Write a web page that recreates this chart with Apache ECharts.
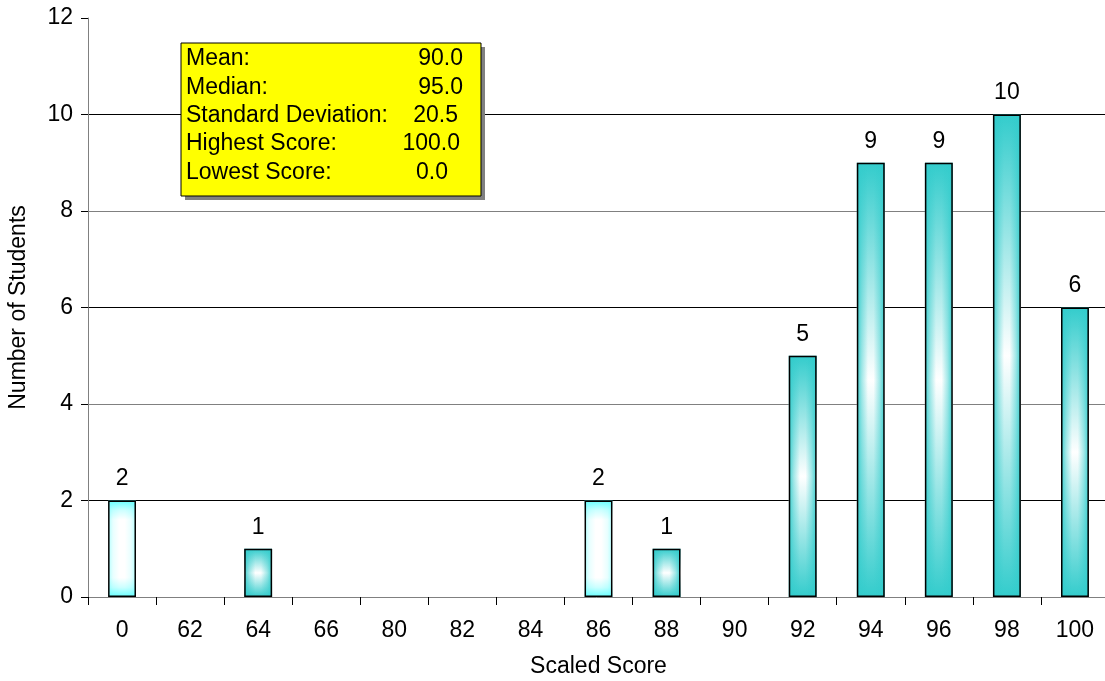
<!DOCTYPE html>
<html>
<head>
<meta charset="utf-8">
<script src="https://cdn.jsdelivr.net/npm/echarts@6/dist/echarts.min.js"></script>
<style>
html,body{margin:0;padding:0;background:#fff;}
#c{width:1105px;height:681px;}
</style>
</head>
<body>
<div id="c"></div>
<script>
// ---- data ----
const categories = ['0','62','64','66','80','82','84','86','88','90','92','94','96','98','100'];
const counts = [2, 0, 1, 0, 0, 0, 0, 2, 1, 0, 5, 9, 9, 10, 6];
const yTicks = [0, 2, 4, 6, 8, 10, 12];
const statLabels = ['Mean:', 'Median:', 'Standard Deviation:', 'Highest Score:', 'Lowest Score:'];
const statValues = ['90.0', '95.0', '20.5', '100.0', '0.0'];
const xTitle = 'Scaled Score';
const yTitle = 'Number of Students';

// ---- styling (not data) ----
const FONT = '"Liberation Sans", Arial, sans-serif';
const FS = 23;
const lightCats = ['0', '86'];
const TEAL = '#33CCCC';
const LIGHT = '#66FFFF';

function vGrad(c, pale) {
  return new echarts.graphic.LinearGradient(0, 0, 0, 1, pale ? [
    {offset: 0, color: c}, {offset: 0.1, color: '#CCFFFF'}, {offset: 0.2, color: '#FFFFFF'},
    {offset: 0.8, color: '#FFFFFF'}, {offset: 0.9, color: '#CCFFFF'}, {offset: 1, color: c}
  ] : [
    {offset: 0, color: c}, {offset: 0.5, color: '#FFFFFF'}, {offset: 1, color: c}
  ]);
}
function hGrad(pale) {
  const base = pale ? '102,255,255' : '51,204,204';
  return new echarts.graphic.LinearGradient(0, 0, 1, 0, [
    {offset: 0, color: 'rgba(' + base + ',' + (pale ? 0.5 : 0.95) + ')'},
    {offset: 0.18, color: 'rgba(' + base + ',' + (pale ? 0.15 : 0.45) + ')'},
    {offset: 0.4, color: 'rgba(' + base + ',0)'},
    {offset: 0.6, color: 'rgba(' + base + ',0)'},
    {offset: 0.82, color: 'rgba(' + base + ',' + (pale ? 0.15 : 0.45) + ')'},
    {offset: 1, color: 'rgba(' + base + ',' + (pale ? 0.5 : 0.95) + ')'}
  ]);
}

const baseData = counts.map((v, i) => {
  const pale = lightCats.includes(categories[i]);
  return {value: v === 0 ? null : v, itemStyle: {color: vGrad(pale ? LIGHT : TEAL, pale)}};
});
const overlayData = counts.map((v, i) => {
  const pale = lightCats.includes(categories[i]);
  return {value: v === 0 ? null : v, itemStyle: {color: hGrad(pale)}};
});

const chart = echarts.init(document.getElementById('c'), null, {renderer: 'canvas'});

const boxX = 181, boxY = 43, boxW = 300, boxH = 153;
const rowY0 = 59, rowStep = 28.3;
const valueRight = [463, 463, 458, 460, 448];
const statTexts = [];
statLabels.forEach((t, i) => {
  statTexts.push({type: 'text', x: boxX + 5, y: rowY0 + i * rowStep, z: 20, silent: true,
    style: {text: t, fontSize: FS, fontFamily: FONT, fill: '#000', verticalAlign: 'middle', align: 'left'}});
  statTexts.push({type: 'text', x: valueRight[i], y: rowY0 + i * rowStep, z: 20, silent: true,
    style: {text: statValues[i], fontSize: FS, fontFamily: FONT, fill: '#000', verticalAlign: 'middle', align: 'right'}});
});

chart.setOption({
  animation: false,
  backgroundColor: '#FFFFFF',
  textStyle: {fontFamily: FONT},
  grid: {left: 88, right: -4, top: 18, bottom: 84, containLabel: false, outerBoundsMode: 'none'},
  xAxis: {
    type: 'category',
    data: categories,
    axisLine: {show: true, lineStyle: {color: '#808080', width: 1}},
    axisTick: {show: true, inside: false, length: 8, lineStyle: {color: '#000'}},
    axisLabel: {color: '#000', fontSize: FS, fontFamily: FONT, margin: 22, interval: 0},
    name: xTitle,
    nameLocation: 'middle',
    nameGap: 58,
    nameTextStyle: {color: '#000', fontSize: FS, fontFamily: FONT},
    splitLine: {show: false}
  },
  yAxis: {
    type: 'value',
    min: yTicks[0],
    max: yTicks[yTicks.length - 1],
    interval: yTicks[1] - yTicks[0],
    axisLine: {show: true, lineStyle: {color: '#808080', width: 1}},
    axisTick: {show: true, inside: false, length: 7, lineStyle: {color: '#000'}},
    axisLabel: {color: '#000', fontSize: FS, fontFamily: FONT, margin: 15},
    splitLine: {show: true, showMinLine: false, showMaxLine: false, lineStyle: {color: ['#000', '#808080'], width: 1}},
    name: yTitle,
    nameLocation: 'middle',
    nameGap: 58,
    nameRotate: 90,
    nameTextStyle: {color: '#000', fontSize: FS, fontFamily: FONT}
  },
  series: [
    {
      type: 'bar',
      data: baseData,
      barWidth: '41%',
      itemStyle: {borderWidth: 0},
      z: 2
    },
    {
      type: 'bar',
      data: overlayData,
      barWidth: '41%',
      barGap: '-100%',
      itemStyle: {borderColor: '#000', borderWidth: 1.5},
      label: {show: true, position: 'top', distance: 10, color: '#000', fontSize: FS, fontFamily: FONT},
      z: 3,
      silent: true
    }
  ],
  graphic: [
    {type: 'rect', shape: {x: boxX + 4, y: boxY + 4, width: boxW, height: boxH}, style: {fill: '#808080'}, z: 10, silent: true},
    {type: 'rect', shape: {x: boxX, y: boxY, width: boxW, height: boxH}, style: {fill: '#FFFF00', stroke: '#000', lineWidth: 1}, z: 11, silent: true}
  ].concat(statTexts)
});
</script>
</body>
</html>
